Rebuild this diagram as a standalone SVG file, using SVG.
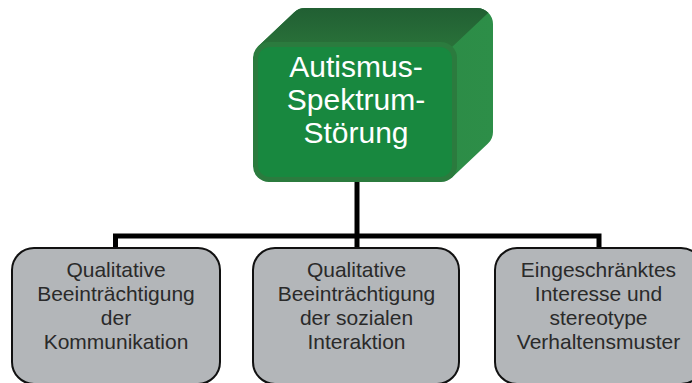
<svg xmlns="http://www.w3.org/2000/svg" width="692" height="383" viewBox="0 0 692 383">
<defs>
<style>
.lbl{font-family:"Liberation Sans",Arial,sans-serif;font-size:21px;fill:#2a2a2a;text-anchor:middle}
.main{font-family:"Liberation Sans",Arial,sans-serif;font-size:30px;fill:#ffffff;text-anchor:middle}
.box{fill:#b3b6b9;stroke:#111111;stroke-width:2}
.conn{fill:none;stroke:#000000;stroke-width:5;stroke-linecap:butt;stroke-linejoin:miter}
</style>
<linearGradient id="topg" x1="0" y1="0" x2="0" y2="1">
<stop offset="0" stop-color="#215f33"/>
<stop offset="1" stop-color="#297139"/>
</linearGradient>
<linearGradient id="rightg" x1="0" y1="0" x2="1" y2="0">
<stop offset="0" stop-color="#2a8642"/>
<stop offset="1" stop-color="#2d8e48"/>
</linearGradient>
</defs>
<rect width="692" height="383" fill="#ffffff"/>
<g id="connectors">
<path class="conn" d="M357,182 L357,236"/>
<path class="conn" d="M115.5,250 L115.5,236 L599,236 L599,250"/>
<path class="conn" d="M357,236 L357,250"/>
</g>
<g id="root">
<path d="M258,46.4 L294,12.4 A16 16 0 0 1 305,8 L477,8 A16 16 0 0 1 493,24 L493,132 A16 16 0 0 1 488,143.6 L452,177.6 L269,182 L253,166 L253,58 Z" fill="url(#rightg)"/>
<path d="M258,46.4 L294,12.4 A16 16 0 0 1 305,8 L477,8 A16 16 0 0 1 488.3,12.7 L452.3,46.7 L260,46.7 Z" fill="url(#topg)"/>
<rect x="253" y="42" width="204" height="140" rx="16" fill="#2b7b3e"/>
<rect x="258" y="47" width="194" height="130" rx="12" fill="#18883f"/>
<text class="main" x="356" y="77">Autismus-</text>
<text class="main" x="356" y="110">Spektrum-</text>
<text class="main" x="356" y="143">Störung</text>
</g>
<g id="node1">
<rect class="box" x="12" y="248" width="208" height="136" rx="22"/>
<text class="lbl" x="116" y="277">Qualitative</text>
<text class="lbl" x="116" y="301">Beeinträchtigung</text>
<text class="lbl" x="116" y="325">der</text>
<text class="lbl" x="116" y="349">Kommunikation</text>
</g>
<g id="node2">
<rect class="box" x="253" y="248" width="206" height="136" rx="22"/>
<text class="lbl" x="356.5" y="277">Qualitative</text>
<text class="lbl" x="356.5" y="301">Beeinträchtigung</text>
<text class="lbl" x="356.5" y="325">der sozialen</text>
<text class="lbl" x="356.5" y="349">Interaktion</text>
</g>
<g id="node3">
<rect class="box" x="495" y="248" width="208" height="136" rx="22"/>
<text class="lbl" x="598.5" y="277">Eingeschränktes</text>
<text class="lbl" x="598.5" y="301">Interesse und</text>
<text class="lbl" x="598.5" y="325">stereotype</text>
<text class="lbl" x="598.5" y="349">Verhaltensmuster</text>
</g>
</svg>
